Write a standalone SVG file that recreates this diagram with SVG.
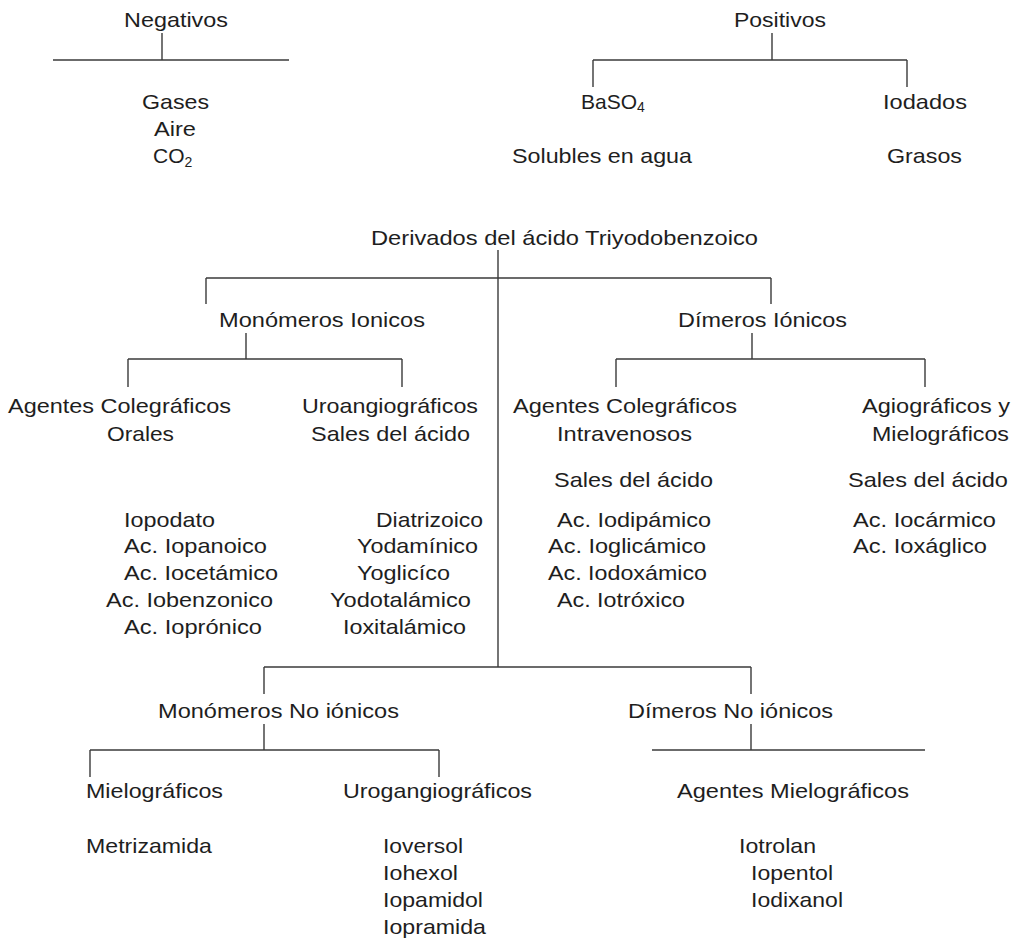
<svg xmlns="http://www.w3.org/2000/svg" width="1021" height="939" viewBox="0 0 1021 939">
<style>
text{font-family:"Liberation Sans",Arial,sans-serif;font-size:21px;fill:#1e1e1e}
.sub{font-size:14px}
#connectors line{stroke:#3a3a3a;stroke-width:1.4}
</style>
<rect width="1021" height="939" fill="#ffffff"/>
<g id="connectors">
<line x1="162" y1="33" x2="162" y2="60"/>
<line x1="53" y1="60" x2="289" y2="60"/>
<line x1="772" y1="33" x2="772" y2="60"/>
<line x1="593" y1="60" x2="907" y2="60"/>
<line x1="593" y1="60" x2="593" y2="87"/>
<line x1="907" y1="60" x2="907" y2="87"/>
<line x1="498" y1="250" x2="498" y2="667"/>
<line x1="206" y1="278" x2="771" y2="278"/>
<line x1="206" y1="278" x2="206" y2="304"/>
<line x1="771" y1="278" x2="771" y2="304"/>
<line x1="246" y1="333" x2="246" y2="359"/>
<line x1="128" y1="359" x2="402" y2="359"/>
<line x1="128" y1="359" x2="128" y2="387"/>
<line x1="402" y1="359" x2="402" y2="387"/>
<line x1="752" y1="333" x2="752" y2="359"/>
<line x1="616" y1="359" x2="925" y2="359"/>
<line x1="616" y1="359" x2="616" y2="387"/>
<line x1="925" y1="359" x2="925" y2="387"/>
<line x1="264" y1="667" x2="751" y2="667"/>
<line x1="264" y1="667" x2="264" y2="694"/>
<line x1="751" y1="667" x2="751" y2="694"/>
<line x1="264" y1="724" x2="264" y2="750"/>
<line x1="90" y1="750" x2="439" y2="750"/>
<line x1="90" y1="750" x2="90" y2="777"/>
<line x1="439" y1="750" x2="439" y2="777"/>
<line x1="751" y1="724" x2="751" y2="750"/>
<line x1="652" y1="750" x2="925" y2="750"/>
</g>
<g id="negativos">
<text x="124" y="27" textLength="104" lengthAdjust="spacingAndGlyphs">Negativos</text>
<text x="142" y="109" textLength="67" lengthAdjust="spacingAndGlyphs">Gases</text>
<text x="154" y="136" textLength="42" lengthAdjust="spacingAndGlyphs">Aire</text>
<text x="153" y="163">CO<tspan class="sub" dy="4">2</tspan></text>
</g>
<g id="positivos">
<text x="734" y="27" textLength="92" lengthAdjust="spacingAndGlyphs">Positivos</text>
</g>
<g id="baso4">
<text x="581" y="109">BaSO<tspan class="sub" dy="3">4</tspan></text>
<text x="512" y="163" textLength="180" lengthAdjust="spacingAndGlyphs">Solubles en agua</text>
</g>
<g id="iodados">
<text x="883" y="109" textLength="84" lengthAdjust="spacingAndGlyphs">Iodados</text>
<text x="887" y="163" textLength="75" lengthAdjust="spacingAndGlyphs">Grasos</text>
</g>
<g id="derivados">
<text x="371" y="245" textLength="387" lengthAdjust="spacingAndGlyphs">Derivados del ácido Triyodobenzoico</text>
</g>
<g id="monomeros-ionicos">
<text x="219" y="327" textLength="206" lengthAdjust="spacingAndGlyphs">Monómeros Ionicos</text>
</g>
<g id="dimeros-ionicos">
<text x="678" y="327" textLength="169" lengthAdjust="spacingAndGlyphs">Dímeros Iónicos</text>
</g>
<g id="colegraficos-orales">
<text x="8" y="413" textLength="223" lengthAdjust="spacingAndGlyphs">Agentes Colegráficos</text>
<text x="107" y="441" textLength="67" lengthAdjust="spacingAndGlyphs">Orales</text>
<text x="124" y="527" textLength="91" lengthAdjust="spacingAndGlyphs">Iopodato</text>
<text x="124" y="553" textLength="143" lengthAdjust="spacingAndGlyphs">Ac. Iopanoico</text>
<text x="124" y="580" textLength="154" lengthAdjust="spacingAndGlyphs">Ac. Iocetámico</text>
<text x="106" y="607" textLength="167" lengthAdjust="spacingAndGlyphs">Ac. Iobenzonico</text>
<text x="124" y="634" textLength="138" lengthAdjust="spacingAndGlyphs">Ac. Ioprónico</text>
</g>
<g id="uroangiograficos">
<text x="302" y="413" textLength="176" lengthAdjust="spacingAndGlyphs">Uroangiográficos</text>
<text x="311" y="441" textLength="159" lengthAdjust="spacingAndGlyphs">Sales del ácido</text>
<text x="376" y="527" textLength="107" lengthAdjust="spacingAndGlyphs">Diatrizoico</text>
<text x="357" y="553" textLength="121" lengthAdjust="spacingAndGlyphs">Yodamínico</text>
<text x="357" y="580" textLength="93" lengthAdjust="spacingAndGlyphs">Yoglicíco</text>
<text x="330" y="607" textLength="141" lengthAdjust="spacingAndGlyphs">Yodotalámico</text>
<text x="343" y="634" textLength="123" lengthAdjust="spacingAndGlyphs">Ioxitalámico</text>
</g>
<g id="colegraficos-intravenosos">
<text x="513" y="413" textLength="224" lengthAdjust="spacingAndGlyphs">Agentes Colegráficos</text>
<text x="557" y="441" textLength="135" lengthAdjust="spacingAndGlyphs">Intravenosos</text>
<text x="554" y="487" textLength="159" lengthAdjust="spacingAndGlyphs">Sales del ácido</text>
<text x="557" y="527" textLength="154" lengthAdjust="spacingAndGlyphs">Ac. Iodipámico</text>
<text x="548" y="553" textLength="158" lengthAdjust="spacingAndGlyphs">Ac. Ioglicámico</text>
<text x="548" y="580" textLength="159" lengthAdjust="spacingAndGlyphs">Ac. Iodoxámico</text>
<text x="557" y="607" textLength="128" lengthAdjust="spacingAndGlyphs">Ac. Iotróxico</text>
</g>
<g id="agiograficos-mielograficos">
<text x="862" y="413" textLength="148" lengthAdjust="spacingAndGlyphs">Agiográficos y</text>
<text x="872" y="441" textLength="137" lengthAdjust="spacingAndGlyphs">Mielográficos</text>
<text x="848" y="487" textLength="160" lengthAdjust="spacingAndGlyphs">Sales del ácido</text>
<text x="853" y="527" textLength="143" lengthAdjust="spacingAndGlyphs">Ac. Iocármico</text>
<text x="853" y="553" textLength="134" lengthAdjust="spacingAndGlyphs">Ac. Ioxáglico</text>
</g>
<g id="monomeros-no-ionicos">
<text x="158" y="718" textLength="241" lengthAdjust="spacingAndGlyphs">Monómeros No iónicos</text>
</g>
<g id="dimeros-no-ionicos">
<text x="628" y="718" textLength="205" lengthAdjust="spacingAndGlyphs">Dímeros No iónicos</text>
</g>
<g id="mielograficos">
<text x="86" y="798" textLength="137" lengthAdjust="spacingAndGlyphs">Mielográficos</text>
<text x="86" y="853" textLength="126" lengthAdjust="spacingAndGlyphs">Metrizamida</text>
</g>
<g id="urogangiograficos">
<text x="343" y="798" textLength="189" lengthAdjust="spacingAndGlyphs">Urogangiográficos</text>
<text x="383" y="853" textLength="80" lengthAdjust="spacingAndGlyphs">Ioversol</text>
<text x="383" y="880" textLength="75" lengthAdjust="spacingAndGlyphs">Iohexol</text>
<text x="383" y="907" textLength="100" lengthAdjust="spacingAndGlyphs">Iopamidol</text>
<text x="383" y="934" textLength="103" lengthAdjust="spacingAndGlyphs">Iopramida</text>
</g>
<g id="agentes-mielograficos">
<text x="677" y="798" textLength="232" lengthAdjust="spacingAndGlyphs">Agentes Mielográficos</text>
<text x="739" y="853" textLength="77" lengthAdjust="spacingAndGlyphs">Iotrolan</text>
<text x="751" y="880" textLength="82" lengthAdjust="spacingAndGlyphs">Iopentol</text>
<text x="751" y="907" textLength="92" lengthAdjust="spacingAndGlyphs">Iodixanol</text>
</g>
</svg>
